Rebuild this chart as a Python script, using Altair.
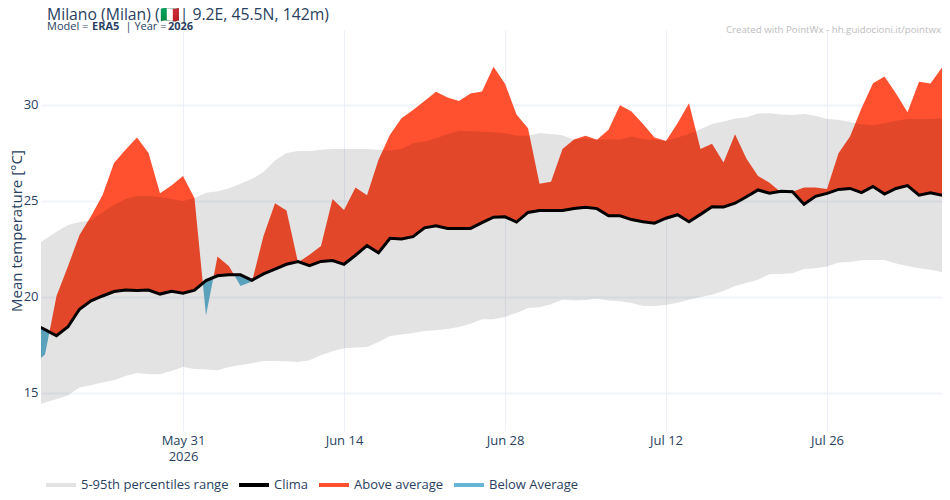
import altair as alt
import pandas as pd

FIRST_DAY = "2026-05-18"
clima = [18.6,18.3,17.98,18.45,19.36,19.8,20.05,20.28,20.36,20.33,20.36,20.15,20.3,20.2,20.35,20.85,21.1,21.15,21.15,20.87,21.2,21.45,21.7,21.84,21.63,21.85,21.9,21.7,22.17,22.67,22.3,23.05,23.02,23.14,23.6,23.7,23.57,23.57,23.57,23.87,24.15,24.17,23.9,24.4,24.5,24.5,24.5,24.6,24.67,24.6,24.23,24.23,24.03,23.92,23.84,24.1,24.28,23.92,24.3,24.7,24.69,24.88,25.22,25.57,25.4,25.5,25.48,24.83,25.24,25.39,25.6,25.65,25.43,25.75,25.36,25.65,25.8,25.3,25.43,25.3,25.3]
temp = [16.5,17.0,20.05,21.6,23.23,24.2,25.3,26.97,27.66,28.3,27.5,25.4,25.8,26.3,25.14,19.03,22.1,21.6,20.57,20.8,23.18,24.88,24.5,21.8,22.2,22.65,25.1,24.53,25.7,25.3,27.14,28.44,29.3,29.74,30.2,30.68,30.38,30.2,30.6,30.7,31.98,31.1,29.5,28.79,25.9,26.0,27.7,28.2,28.39,28.18,28.7,29.98,29.65,29.0,28.3,28.12,29.05,30.09,27.7,27.98,27.0,28.47,27.2,26.3,25.95,25.45,25.48,25.7,25.7,25.62,27.48,28.35,29.83,31.13,31.48,30.6,29.62,31.2,31.11,31.95,32.6]
p95 = [22.6,23.0,23.4,23.75,23.9,24.0,24.4,24.8,25.1,25.26,25.26,25.2,25.1,25.0,25.15,25.43,25.5,25.66,25.9,26.15,26.5,27.1,27.5,27.6,27.6,27.66,27.7,27.7,27.7,27.7,27.66,27.62,27.7,28.0,28.1,28.26,28.49,28.66,28.63,28.6,28.57,28.53,28.4,28.4,28.54,28.48,28.42,28.2,28.25,28.2,28.2,28.2,28.35,28.23,28.18,28.14,28.3,28.5,28.73,29.0,29.13,29.29,29.36,29.55,29.57,29.5,29.48,29.53,29.43,29.27,29.23,29.11,28.99,28.94,29.05,29.17,29.27,29.27,29.27,29.3,29.3]
p5 = [14.3,14.5,14.67,14.88,15.28,15.4,15.54,15.66,15.89,16.04,15.97,15.97,16.15,16.35,16.25,16.22,16.18,16.35,16.46,16.55,16.67,16.67,16.65,16.61,16.7,16.96,17.17,17.33,17.37,17.4,17.66,17.97,18.04,18.12,18.23,18.26,18.33,18.44,18.61,18.84,18.84,18.96,19.17,19.43,19.46,19.62,19.86,19.81,19.84,19.9,19.81,19.77,19.69,19.53,19.53,19.58,19.7,19.86,20.0,20.12,20.31,20.57,20.73,20.9,21.18,21.2,21.23,21.46,21.49,21.58,21.79,21.82,21.91,21.93,21.93,21.74,21.61,21.49,21.42,21.28,21.2]
tick_dates = ["2026-05-31", "2026-06-14", "2026-06-28", "2026-07-12", "2026-07-26"]
y_ticks = [15, 20, 25, 30]
series_names = ["5-95th percentiles range", "Clima", "Above average", "Below Average"]
series_colors = ["rgba(0,0,0,0.11)", "#000000", "#FF5030", "#66B5D4"]
TEXT = "#2a3f5f"
FONT = "Open Sans"

def ms(stamp):
    return int(pd.Timestamp(stamp, tz="UTC").value // 10**6)

DAY = 86400000
t0 = ms(FIRST_DAY)
dates = [t0 + i * DAY for i in range(len(clima))]
base = pd.DataFrame({"date": dates, "clima": clima, "temp": temp, "p5": p5, "p95": p95})

# split the anomaly band where the observed curve crosses the climatology
rows = []
for i in range(len(clima)):
    rows.append((dates[i], clima[i], temp[i]))
    if i + 1 < len(clima):
        d0, d1 = temp[i] - clima[i], temp[i + 1] - clima[i + 1]
        if d0 * d1 < 0:
            f = d0 / (d0 - d1)
            cc = clima[i] + f * (clima[i + 1] - clima[i])
            rows.append((dates[i] + f * DAY, cc, cc))
band = pd.DataFrame(rows, columns=["date", "clima", "temp"])
band["above"] = band[["clima", "temp"]].max(axis=1)
band["below"] = band[["clima", "temp"]].min(axis=1)

x_dom = [t0 + 0.652 * DAY, t0 + 79.26 * DAY]
x_scale = alt.Scale(type="utc", domain=x_dom)
y_scale = alt.Scale(domain=[13.02, 33.9], nice=False, zero=False)
color_scale = alt.Scale(domain=series_names, range=series_colors)

x_enc = alt.X("date:T", scale=x_scale, title=None, axis=alt.Axis(
    values=[ms(d) for d in tick_dates], format="%b %d",
    labelExpr="datum.label == 'May 31' ? ['May 31', '2026'] : datum.label",
    labelLineHeight=16, labelPadding=3, labelFont=FONT, labelFontSize=13, labelColor=TEXT,
    ticks=False, domain=False, grid=True, gridColor="#EBF0F8", gridWidth=1, labelFlush=False,
    labelOverlap=False))
y_axis = alt.Axis(values=y_ticks, title="Mean temperature [°C]", titleFont=FONT, titleFontSize=15,
                  titleFontWeight="normal", titleColor=TEXT, titlePadding=-1,
                  labelFont=FONT, labelFontSize=13, labelColor=TEXT, labelPadding=3,
                  ticks=False, domain=False, grid=True, gridColor="#EBF0F8", gridWidth=2, gridOpacity=0.7)
legend = alt.Legend(title=None, orient="none", legendX=3, legendY=438, direction="horizontal", columns=4,
                    symbolType="stroke", symbolSize=900, symbolStrokeWidth=4, labelFont=FONT,
                    labelFontSize=13, labelColor=TEXT, labelOffset=3, columnPadding=2)

color_enc = alt.Color("series:N", scale=color_scale, legend=legend)

def tagged(frame, name):
    out = frame.copy()
    out["series"] = name
    return out

above = alt.Chart(tagged(band, series_names[2])).mark_area(clip=True, interpolate="linear").encode(
    x=x_enc, y=alt.Y("clima:Q", scale=y_scale, axis=y_axis), y2="above:Q", color=color_enc)
below = alt.Chart(tagged(band, series_names[3])).mark_area(clip=True, interpolate="linear").encode(
    x=x_enc, y=alt.Y("clima:Q", scale=y_scale, axis=y_axis), y2="below:Q", color=color_enc)
gray = alt.Chart(tagged(base, series_names[0])).mark_area(clip=True, interpolate="linear").encode(
    x=x_enc, y=alt.Y("p5:Q", scale=y_scale, axis=y_axis), y2="p95:Q", color=color_enc)
line = alt.Chart(tagged(base, series_names[1])).mark_line(clip=True, interpolate="linear", strokeWidth=3).encode(
    x=x_enc, y=alt.Y("clima:Q", scale=y_scale, axis=y_axis), color=color_enc)

def label(text, x, y, size, color=TEXT, weight="normal", align="left"):
    return alt.Chart(pd.DataFrame({"t": [text]})).mark_text(
        font=FONT, fontSize=size, color=color, fontWeight=weight, align=align, baseline="alphabetic"
    ).encode(text="t:N", x=alt.value(x), y=alt.value(y))

texts = [
    label("Milano (Milan) (🇮🇹| 9.2E, 45.5N, 142m)", 6, -10, 15.75),
    label("Model = ", 6, -0.5, 11),
    label("ERA5", 51, -0.5, 11, weight="bold"),
    label("| Year = ", 84.5, -0.5, 11),
    label("2026", 127, -0.5, 11, weight="bold"),
    label("Created with PointWx - hh.guidocioni.it/pointwx", 900, 2.5, 9.7, color="#BDBDBD", align="right"),
]

chart = alt.layer(above, below, gray, line, *texts).properties(
    width=904, height=401,
    padding={"left": 33, "top": 22, "right": -3, "bottom": 61},
    autosize=alt.AutoSizeParams(type="none"),
    background="white",
).configure_view(stroke=None)

chart.save("out.html", embed_options={"renderer": "svg", "actions": False})
